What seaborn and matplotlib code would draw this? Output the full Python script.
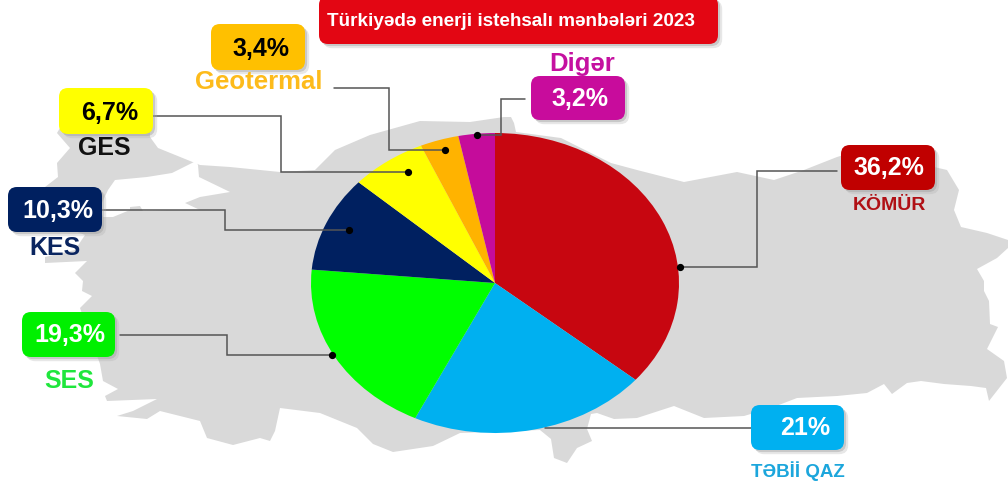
import matplotlib
matplotlib.use("Agg")
import matplotlib.pyplot as plt
import matplotlib.patheffects as pe
from matplotlib.patches import FancyBboxPatch, Polygon
import seaborn as sns

# chart data
categories = ["KÖMÜR", "TƏBİİ QAZ", "SES", "KES", "GES", "Geotermal", "Digər"]
shares = [36.2, 21, 19.3, 10.3, 6.7, 3.4, 3.2]
title_text = "Türkiyədə enerji istehsalı mənbələri 2023"

slice_colors = ["#C70610", "#00B0F0", "#00FF00", "#002060", "#FFFF00", "#FFB300", "#C50C9B"]
box_colors = ["#C00000", "#00B0F0", "#00F000", "#002060", "#FFFF00", "#FFC000", "#C80C9C"]
label_colors = ["#B01015", "#1CA6DC", "#1FE63C", "#0A2560", "#111111", "#FDBB1B", "#C510A0"]
number_colors = ["white", "white", "white", "white", "black", "black", "white"]

# layout in pixels of the picture: box (x0, y0, x1, y1), number centre, label centre, label size
box_xy = [(841, 145, 935, 190), (751, 405, 844, 450), (22, 312, 115, 357), (8, 187, 102, 232),
          (59, 88, 153, 134), (211, 24, 305, 70), (531, 76, 625, 120)]
number_xy = [(889, 168), (805, 428), (70, 335), (58, 211), (110, 113), (261, 49), (580, 99)]
label_xy = [(889, 206), (798, 471), (69, 381), (55, 248), (104, 148), (259, 82), (582, 64)]
label_size = [14, 13.5, 18, 18, 18, 18.5, 18.5]

# leader lines, the dot sits on the last point
leaders = [
    ([837, 757, 757, 680], [171, 171, 267, 267]),
    ([751, 545], [428, 428]),
    ([120, 227, 227, 332], [335, 335, 355, 355]),
    ([102, 225, 225, 349], [210, 210, 230, 230]),
    ([153, 281, 281, 408], [116, 116, 172, 172]),
    ([334, 389, 389, 445], [88, 88, 150, 150]),
    ([525, 501, 501, 477], [99, 99, 135, 135]),
]

# grey map of Turkey behind the pie
map_outline = [
    (57, 133), (60, 128), (150, 130), (150, 137), (158, 148), (195, 163), (200, 165), (230, 167),
    (280, 172), (315, 170), (335, 150), (370, 135), (420, 121), (470, 122), (504, 117), (511, 117),
    (514, 123), (516, 132), (561, 138), (611, 163), (637, 170), (684, 182), (737, 172), (774, 180),
    (804, 170), (837, 157), (860, 150), (925, 160), (934, 167), (947, 170), (959, 190), (954, 210),
    (961, 227), (987, 233), (1008, 240), (1008, 248), (997, 258), (977, 269), (984, 281), (984, 291),
    (989, 301), (990, 324), (998, 327), (987, 349), (1004, 361), (1007, 378), (989, 401), (986, 388),
    (971, 386), (944, 384), (921, 381), (907, 383), (892, 394), (884, 384), (867, 393), (837, 396),
    (797, 398), (771, 408), (744, 416), (704, 418), (674, 406), (637, 418), (614, 419), (597, 413),
    (591, 414), (587, 429), (592, 441), (577, 448), (567, 463), (554, 458), (551, 439), (540, 430),
    (460, 433), (433, 446), (393, 452), (373, 444), (357, 428), (320, 413), (280, 408), (275, 431),
    (270, 441), (260, 438), (233, 445), (207, 438), (200, 421), (160, 411), (147, 419), (117, 416),
    (133, 411), (157, 399), (107, 401), (105, 396), (118, 389), (103, 381), (100, 364), (80, 308),
    (92, 296), (82, 291), (83, 281), (75, 273), (87, 261), (45, 263), (45, 257), (75, 250), (85, 235),
    (60, 225), (45, 187), (58, 177), (57, 163), (70, 148),
]
marmara = [
    (115, 180), (147, 177), (172, 173), (196, 161), (198, 165), (199, 177), (230, 192), (200, 197),
    (185, 203), (200, 210), (167, 210), (143, 211), (140, 206), (130, 207), (130, 210), (113, 217),
    (103, 217), (100, 207), (108, 190),
]

sns.set_theme(style="white")
plt.rcParams["font.family"] = ["Liberation Sans", "DejaVu Sans"]

W, H = 1008, 482
fig = plt.figure(figsize=(W / 100, H / 100), dpi=100, facecolor="white")

# overlay axes works in picture pixels
bg = fig.add_axes([0, 0, 1, 1], zorder=1)
bg.set_xlim(0, W)
bg.set_ylim(H, 0)
bg.axis("off")
bg.add_patch(Polygon(map_outline, closed=True, fc="#D9D9D9", ec="none"))
bg.add_patch(Polygon(marmara, closed=True, fc="white", ec="none"))

# the pie is stretched, so it gets its own axes with free aspect
cx, cy, rx, ry = 495, 283, 184, 150
pie_ax = fig.add_axes([(cx - rx) / W, 1 - (cy + ry) / H, 2 * rx / W, 2 * ry / H], zorder=2)
pie_ax.pie(shares, colors=sns.color_palette(slice_colors), startangle=90, counterclock=False, radius=1,
           wedgeprops={"linewidth": 0})
pie_ax.set_aspect("auto")
pie_ax.set_xlim(-1, 1)
pie_ax.set_ylim(-1, 1)

top = fig.add_axes([0, 0, 1, 1], zorder=3)
top.set_xlim(0, W)
top.set_ylim(H, 0)
top.axis("off")
top.patch.set_alpha(0)

shadow = [pe.SimplePatchShadow(offset=(3, -3), shadow_rgbFace="#b0b0b0", alpha=0.3),
          pe.SimplePatchShadow(offset=(1.5, -1.5), shadow_rgbFace="#9a9a9a", alpha=0.4), pe.Normal()]


def rounded_box(x0, y0, x1, y1, color, pad=9):
    box = FancyBboxPatch((x0 + pad, y0 + pad), x1 - x0 - 2 * pad, y1 - y0 - 2 * pad,
                         boxstyle=f"round,pad={pad},rounding_size={pad}", fc=color, ec="none", zorder=4)
    box.set_path_effects(shadow)
    top.add_patch(box)


for i, name in enumerate(categories):
    xs, ys = leaders[i]
    top.plot(xs, ys, color="#555555", lw=1.1, zorder=3, solid_joinstyle="miter")
    if len(xs) > 2:
        top.plot(xs[-1], ys[-1], "o", color="black", ms=4.2, zorder=3)
    rounded_box(*box_xy[i], box_colors[i])
    number = f"{shares[i]:g}%".replace(".", ",")
    top.text(*number_xy[i], number, color=number_colors[i], fontsize=18, fontweight="bold",
             ha="center", va="center", zorder=5)
    top.text(*label_xy[i], name, color=label_colors[i], fontsize=label_size[i], fontweight="bold",
             ha="center", va="center", zorder=5)

rounded_box(319, -4, 718, 44, "#E30613")
top.text(511, 22, title_text, color="white", fontsize=13.6, fontweight="bold", ha="center", va="center", zorder=5)

fig.savefig("out.png", dpi=100)
